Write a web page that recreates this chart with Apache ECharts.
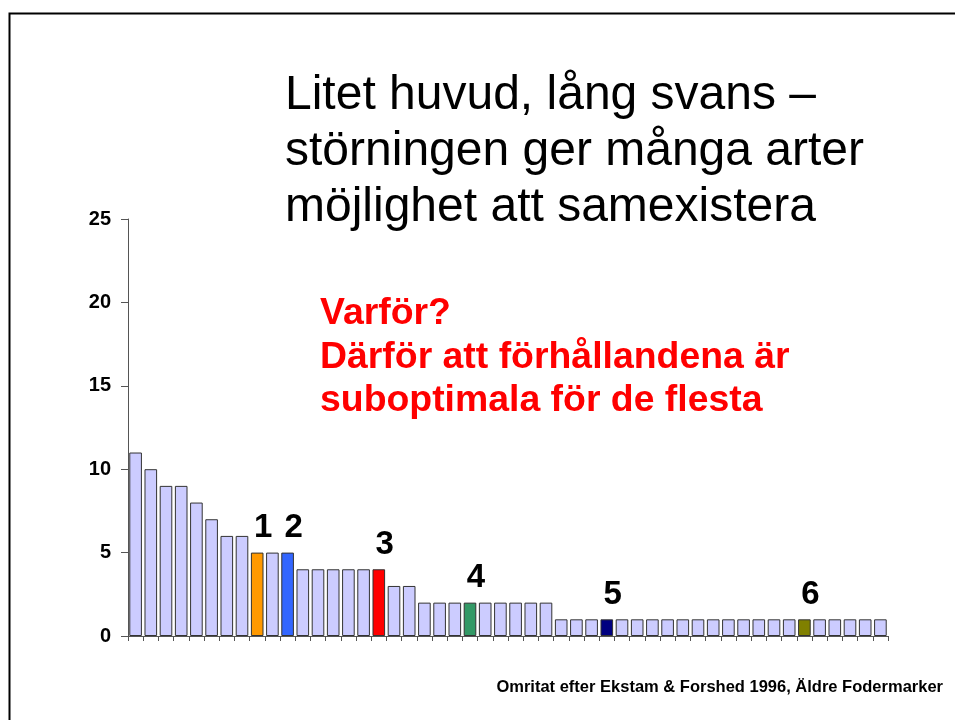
<!DOCTYPE html>
<html lang="sv">
<head>
    <meta charset="UTF-8">
    <title>Litet huvud, lång svans</title>
    <script src="https://cdn.jsdelivr.net/npm/echarts@6/dist/echarts.min.js"></script>
    <style>
        html, body { margin: 0; padding: 0; background: #fff; }
        #main { width: 955px; height: 720px; }
    </style>
</head>
<body>
<div id="main"></div>
<script>
    // antal individer per art, sorterat fallande
    var species = [];
    for (var i = 1; i <= 50; i++) species.push('Art ' + i);
    var counts = [11, 10, 9, 9, 8, 7, 6, 6, 5, 5, 5, 4, 4, 4, 4, 4, 4, 3, 3,
        2, 2, 2, 2, 2, 2, 2, 2, 2,
        1, 1, 1, 1, 1, 1, 1, 1, 1, 1, 1, 1, 1, 1, 1, 1, 1, 1, 1, 1, 1, 1];
    var yTicks = [0, 5, 10, 15, 20, 25];

    // markerade arter
    var markedIndex = [8, 10, 16, 22, 31, 44];
    var markedLabels = ['1', '2', '3', '4', '5', '6'];
    var markedColors = ['#ff9900', '#3366ff', '#ff0000', '#339966', '#000080', '#808000'];

    var font = '"Liberation Sans", Arial, sans-serif';

    var barData = counts.map(function (v, i) {
        var k = markedIndex.indexOf(i);
        if (k < 0) return v;
        return {
            value: v,
            itemStyle: {color: markedColors[k]},
            label: {show: true, formatter: markedLabels[k]}
        };
    });

    var myChart = echarts.init(document.getElementById('main'));
    var option = {
        animation: false,
        backgroundColor: '#fff',
        grid: {left: 128, right: 67, top: 219, bottom: 84},
        xAxis: {
            type: 'category',
            data: species,
            axisLine: {lineStyle: {color: '#555', width: 1}},
            axisTick: {show: true, interval: 0, length: 5, lineStyle: {color: '#555'}},
            axisLabel: {show: false}
        },
        yAxis: {
            type: 'value',
            min: yTicks[0],
            max: yTicks[yTicks.length - 1],
            interval: 5,
            splitLine: {show: false},
            axisLine: {show: true, lineStyle: {color: '#555', width: 1}},
            axisTick: {show: true, length: 7, lineStyle: {color: '#555'}},
            axisLabel: {
                margin: 17, color: '#000', fontWeight: 'bold',
                fontSize: 20, fontFamily: font
            }
        },
        series: [{
            type: 'bar',
            data: barData,
            barCategoryGap: '17%',
            itemStyle: {color: '#ccccff', borderColor: '#333', borderWidth: 1},
            label: {
                show: false, position: 'top', distance: 8, offset: [6, 0],
                color: '#000', fontWeight: 'bold', fontSize: 33, fontFamily: font
            }
        }],
        graphic: [
            {
                type: 'rect', left: 7, top: 11,
                shape: {width: 1000, height: 1000},
                style: {fill: 'none', stroke: '#000', lineWidth: 2}
            },
            {
                type: 'text', left: 285, top: 68,
                style: {
                    text: 'Litet huvud, lång svans –\nstörningen ger många arter\nmöjlighet att samexistera',
                    font: '48px ' + font, lineHeight: 56, fill: '#000'
                }
            },
            {
                type: 'text', left: 320, top: 292,
                style: {
                    text: 'Varför?\nDärför att förhållandena är\nsuboptimala för de flesta',
                    font: 'bold 37.4px ' + font, lineHeight: 43.5, fill: '#ff0000'
                }
            },
            {
                type: 'text', right: 12, top: 679,
                style: {
                    text: 'Omritat efter Ekstam & Forshed 1996, Äldre Fodermarker',
                    font: 'bold 16.5px ' + font, fill: '#000'
                }
            }
        ]
    };
    myChart.setOption(option);
</script>
</body>
</html>
